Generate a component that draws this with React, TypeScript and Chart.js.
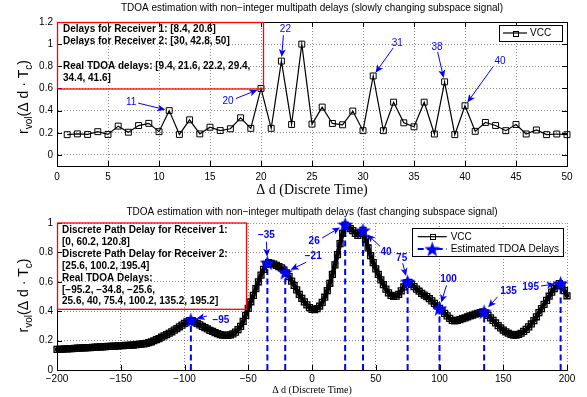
import React, { useEffect, useRef } from "react";
import { Chart, registerables } from "chart.js";

Chart.register(...registerables);

// ---------------- top chart data ----------------
const TOP_TITLE = "TDOA estimation with non\u2212integer multipath delays (slowly changing subspace signal)";
const TOP_X_START = 1;
const TOP_VCC = [
  0.183, 0.19, 0.185, 0.21, 0.185, 0.26, 0.205, 0.265, 0.285, 0.21,
  0.4, 0.185, 0.317, 0.19, 0.25, 0.22, 0.236, 0.335, 0.24, 0.6,
  0.24, 0.847, 0.275, 1.0, 0.278, 0.432, 0.284, 0.272, 0.396, 0.219,
  0.713, 0.219, 0.476, 0.29, 0.254, 0.476, 0.189, 0.66, 0.183, 0.444,
  0.213, 0.293, 0.266, 0.219, 0.275, 0.189, 0.225, 0.183, 0.189, 0.183,
];
const TOP_X_TICKS = [0, 5, 10, 15, 20, 25, 30, 35, 40, 45, 50];
const TOP_Y_TICKS = [0, 0.2, 0.4, 0.6, 0.8, 1, 1.2];
const TOP_ARROW_X = [11, 20, 22, 31, 38, 40];
const TOP_ARROW_LABELS = ["11", "20", "22", "31", "38", "40"];
const TOP_BOX_LINES = [
  "Delays for Receiver 1: [8.4, 20.6]",
  "Delays for Receiver 2: [30, 42.8, 50]",
  "",
  "Real TDOA delays: [9.4, 21.6, 22.2, 29.4,",
  "34.4, 41.6]",
];

// ---------------- bottom chart data ----------------
const BOT_TITLE = "TDOA estimation with non\u2212integer multipath delays (fast changing subspace signal)";
const BOT_X_START = -200;
const BOT_X_STEP = 2;
const BOT_VCC = [
  0.141, 0.141, 0.142, 0.143, 0.144, 0.145, 0.146, 0.147, 0.148, 0.149,
  0.150, 0.151, 0.152, 0.153, 0.154, 0.155, 0.156, 0.157, 0.158, 0.159,
  0.160, 0.161, 0.162, 0.163, 0.164, 0.165, 0.166, 0.167, 0.168, 0.169,
  0.170, 0.172, 0.174, 0.176, 0.178, 0.181, 0.186, 0.192, 0.199, 0.206,
  0.214, 0.223, 0.232, 0.241, 0.250, 0.260, 0.271, 0.282, 0.294, 0.305,
  0.317, 0.327, 0.336, 0.336, 0.326, 0.317, 0.307, 0.297, 0.288, 0.279,
  0.270, 0.262, 0.254, 0.247, 0.241, 0.237, 0.235, 0.236, 0.239, 0.246,
  0.258, 0.274, 0.297, 0.330, 0.372, 0.420, 0.464, 0.508, 0.553, 0.600,
  0.645, 0.685, 0.718, 0.730, 0.725, 0.720, 0.712, 0.703, 0.695, 0.680,
  0.660, 0.635, 0.605, 0.575, 0.545, 0.515, 0.488, 0.463, 0.443, 0.425,
  0.412, 0.410, 0.418, 0.435, 0.460, 0.495, 0.540, 0.590, 0.650, 0.715,
  0.785, 0.860, 0.930, 0.985, 0.975, 0.962, 0.948, 0.930, 0.915, 0.930,
  0.950, 0.890, 0.830, 0.778, 0.730, 0.688, 0.650, 0.613, 0.580, 0.550,
  0.525, 0.507, 0.500, 0.503, 0.515, 0.538, 0.565, 0.592, 0.596, 0.582,
  0.567, 0.550, 0.536, 0.522, 0.510, 0.499, 0.485, 0.470, 0.453, 0.436,
  0.419, 0.402, 0.385, 0.368, 0.351, 0.337, 0.334, 0.338, 0.343, 0.349,
  0.355, 0.362, 0.368, 0.374, 0.380, 0.386, 0.391, 0.396, 0.388, 0.372,
  0.355, 0.338, 0.320, 0.302, 0.286, 0.272, 0.260, 0.250, 0.242, 0.238,
  0.238, 0.242, 0.250, 0.262, 0.276, 0.293, 0.313, 0.336, 0.362, 0.390,
  0.418, 0.446, 0.474, 0.502, 0.530, 0.553, 0.572, 0.588, 0.575, 0.540,
  0.505,
];
const BOT_EST_X = [-95, -35, -21, 26, 40, 75, 100, 135, 195];
const BOT_EST_Y = [0.34, 0.73, 0.665, 0.99, 0.95, 0.6, 0.42, 0.396, 0.59];
const BOT_EST_LABELS = ["\u221295", "\u221235", "\u221221", "26", "40", "75", "100", "135", "195"];
const BOT_X_TICKS = [-200, -150, -100, -50, 0, 50, 100, 150, 200];
const BOT_Y_TICKS = [0, 0.2, 0.4, 0.6, 0.8, 1];
const BOT_BOX_LINES = [
  "Discrete Path Delay for Receiver 1:",
  "[0, 60.2, 120.8]",
  "Discrete Path Delay for Receiver 2:",
  "[25.6, 100.2, 195.4]",
  "Real TDOA Delays:",
  "[\u221295.2, \u221234.8, \u221225.6,",
  "25.6, 40, 75.4, 100.2, 135.2, 195.2]",
];

const X_TITLE = "\u0394 d (Discrete Time)";
const LEGEND_VCC = "VCC";
const LEGEND_EST = "Estimated TDOA Delays";

// ---------------- styles ----------------
const SANS = '"Liberation Sans", Arial, Helvetica, sans-serif';
const SERIF = '"Liberation Serif", "Times New Roman", serif';
const BLUE = "#0000ff";
const GRID_COLOR = "rgba(0,0,0,0.45)";
const TICK_LEN = 5;

const TOP_ARROW_STYLE = [
  { tail: [-31, -7.5], text: [-38, -8] },
  { tail: [-25, 10], text: [-33, 12.5] },
  { tail: [2, -26], text: [4, -32] },
  { tail: [20, -28], text: [24, -33] },
  { tail: [-7, -30], text: [-7.6, -35] },
  { tail: [28, -39], text: [35, -44] },
];
const BOT_ARROW_STYLE = [
  { tail: [16, -4], text: [30, 0] },
  { tail: [-1, -21], text: [-1, -27] },
  { tail: [21, -10], text: [28, -15.5] },
  { tail: [-23, 13.5], text: [-31, 17] },
  { tail: [17, 16], text: [23, 22] },
  { tail: [-5, -18.5], text: [-6, -23.6] },
  { tail: [7, -23], text: [9, -29] },
  { tail: [13.5, -15], text: [24.4, -21] },
  { tail: [-19.6, 2.7], text: [-30, 4.4] },
];

Chart.defaults.font.family = SANS;

function makeStar(size: number, color: string) {
  const c = document.createElement("canvas");
  c.width = size;
  c.height = size;
  const g = c.getContext("2d")!;
  const cx = size / 2;
  const cy = size / 2 + 0.7;
  const R = size / 2 - 0.2;
  const r = R * 0.4;
  g.beginPath();
  for (let i = 0; i < 10; i++) {
    const ang = -Math.PI / 2 + (i * Math.PI) / 5;
    const rad = i % 2 === 0 ? R : r;
    g.lineTo(cx + rad * Math.cos(ang), cy + rad * Math.sin(ang));
  }
  g.closePath();
  g.fillStyle = color;
  g.fill();
  return c;
}

function fmtY(v: number) {
  return String(Math.round(v * 10) / 10);
}
function fmtX(v: number) {
  return v < 0 ? "\u2212" + Math.abs(v) : String(v);
}

function drawArrow(ctx: CanvasRenderingContext2D, x1: number, y1: number, x2: number, y2: number) {
  const ang = Math.atan2(y2 - y1, x2 - x1);
  const head = 8;
  const hw = 3.5;
  const bx = x2 - head * Math.cos(ang);
  const by = y2 - head * Math.sin(ang);
  const ix = x2 - (head - 2) * Math.cos(ang);
  const iy = y2 - (head - 2) * Math.sin(ang);
  ctx.strokeStyle = BLUE;
  ctx.fillStyle = BLUE;
  ctx.lineWidth = 1;
  ctx.beginPath();
  ctx.moveTo(x1, y1);
  ctx.lineTo(ix, iy);
  ctx.stroke();
  ctx.beginPath();
  ctx.moveTo(x2, y2);
  ctx.lineTo(bx + hw * Math.sin(ang), by - hw * Math.cos(ang));
  ctx.lineTo(ix, iy);
  ctx.lineTo(bx - hw * Math.sin(ang), by + hw * Math.cos(ang));
  ctx.closePath();
  ctx.fill();
}

function drawAnnotations(
  chart: any,
  xs: number[],
  ys: number[],
  labels: string[],
  styles: { tail: number[]; text: number[] }[],
  gap: number,
  bold: boolean
) {
  const ctx: CanvasRenderingContext2D = chart.ctx;
  const sx = chart.scales.x;
  const sy = chart.scales.y;
  for (let i = 0; i < xs.length; i++) {
    const px = sx.getPixelForValue(xs[i]);
    const py = sy.getPixelForValue(ys[i]);
    const st = styles[i];
    const tx = px + st.tail[0];
    const ty = py + st.tail[1];
    const d = Math.hypot(tx - px, ty - py);
    const hx = px + ((tx - px) / d) * gap;
    const hy = py + ((ty - py) / d) * gap;
    drawArrow(ctx, tx, ty, hx, hy);
    ctx.fillStyle = BLUE;
    ctx.font = (bold ? "bold " : "") + "10px " + SANS;
    ctx.textAlign = "center";
    ctx.textBaseline = "middle";
    ctx.fillText(labels[i], px + st.text[0], py + st.text[1]);
  }
}

function drawYLabel(ctx: CanvasRenderingContext2D, bx: number, cy: number) {
  const parts = [
    { t: "r", s: 14, dy: 0 },
    { t: "vol", s: 10, dy: 4 },
    { t: "(\u0394 d \u00b7 T", s: 14, dy: 0 },
    { t: "c", s: 10, dy: 4 },
    { t: ")", s: 14, dy: 0 },
  ];
  ctx.save();
  ctx.translate(bx, cy);
  ctx.rotate(-Math.PI / 2);
  ctx.fillStyle = "#000";
  ctx.textAlign = "left";
  ctx.textBaseline = "alphabetic";
  let total = 0;
  const widths = parts.map((p) => {
    ctx.font = p.s + "px " + SANS;
    const w = ctx.measureText(p.t).width;
    total += w;
    return w;
  });
  let x = -total / 2;
  parts.forEach((p, i) => {
    ctx.font = p.s + "px " + SANS;
    ctx.fillText(p.t, x, p.dy);
    x += widths[i];
  });
  ctx.restore();
}

function drawInTicks(chart: any, mirror: boolean) {
  const ctx: CanvasRenderingContext2D = chart.ctx;
  const a = chart.chartArea;
  const sx = chart.scales.x;
  const sy = chart.scales.y;
  ctx.strokeStyle = "#000";
  ctx.lineWidth = 1;
  ctx.beginPath();
  for (const t of sx.ticks) {
    const px = Math.round(sx.getPixelForValue(t.value)) + 0.5;
    ctx.moveTo(px, a.bottom);
    ctx.lineTo(px, a.bottom - TICK_LEN);
    if (mirror) {
      ctx.moveTo(px, a.top);
      ctx.lineTo(px, a.top + TICK_LEN);
    }
  }
  for (const t of sy.ticks) {
    const py = Math.round(sy.getPixelForValue(t.value)) + 0.5;
    ctx.moveTo(a.left, py);
    ctx.lineTo(a.left + TICK_LEN, py);
    if (mirror) {
      ctx.moveTo(a.right, py);
      ctx.lineTo(a.right - TICK_LEN, py);
    }
  }
  ctx.stroke();
}

function drawTextBox(
  ctx: CanvasRenderingContext2D,
  left: number,
  top: number,
  w: number,
  h: number,
  lines: string[],
  padX: number,
  firstY: number,
  lineH: number
) {
  ctx.strokeStyle = "#ff0000";
  ctx.lineWidth = 1.3;
  ctx.strokeRect(left + 0.5, top + 0.5, w, h);
  ctx.fillStyle = "#000";
  ctx.font = "bold 10px " + SANS;
  ctx.textAlign = "left";
  ctx.textBaseline = "middle";
  lines.forEach((l, i) => ctx.fillText(l, left + padX, top + firstY + i * lineH));
}

function drawVccSample(ctx: CanvasRenderingContext2D, x1: number, x2: number, y: number, side: number) {
  ctx.strokeStyle = "#000";
  ctx.lineWidth = 1.2;
  ctx.beginPath();
  ctx.moveTo(x1, y);
  ctx.lineTo(x2, y);
  ctx.stroke();
  const cx = (x1 + x2) / 2;
  ctx.lineWidth = 1;
  ctx.strokeRect(Math.round(cx - side / 2) + 0.5, Math.round(y - side / 2) + 0.5, side, side);
}

function scaleCommon(ticks: number[], fmt: (v: number) => string, pad: number) {
  return {
    type: "linear" as const,
    afterBuildTicks: (s: any) => {
      s.ticks = ticks.map((v) => ({ value: v }));
    },
    ticks: {
      color: "#000",
      font: { size: 10, family: SANS },
      padding: pad,
      autoSkip: false,
      maxRotation: 0,
      callback: (v: any) => fmt(Number(v)),
    },
    grid: { color: GRID_COLOR, lineWidth: 1, drawTicks: false },
    border: { display: true, color: "#000", width: 1, dash: [1, 2] },
  };
}

export default function App() {
  const topRef = useRef<HTMLCanvasElement>(null);
  const botRef = useRef<HTMLCanvasElement>(null);

  useEffect(() => {
    document.body.style.margin = "0";
    const star = makeStar(17, BLUE);

    // ---------- top chart ----------
    const topData = TOP_VCC.map((v, i) => ({ x: TOP_X_START + i, y: v }));
    const topArrowY = TOP_ARROW_X.map((x) => TOP_VCC[x - TOP_X_START]);
    const topDecor = {
      id: "topDecor",
      afterDraw(chart: any) {
        const ctx: CanvasRenderingContext2D = chart.ctx;
        const a = chart.chartArea;
        ctx.save();
        ctx.strokeStyle = "#000";
        ctx.lineWidth = 1;
        ctx.strokeRect(Math.round(a.left) + 0.5, Math.round(a.top) + 0.5, Math.round(a.right - a.left), Math.round(a.bottom - a.top));
        drawInTicks(chart, true);
        ctx.fillStyle = "#000";
        ctx.textAlign = "center";
        ctx.textBaseline = "middle";
        ctx.font = "10px " + SANS;
        ctx.fillText(TOP_TITLE, (a.left + a.right) / 2, 8.5);
        ctx.font = "14px " + SERIF;
        ctx.fillText(X_TITLE, (a.left + a.right) / 2, 190);
        drawYLabel(ctx, 28, (a.top + a.bottom) / 2 + 3);
        drawTextBox(ctx, a.left, a.top, 206, 66.5, TOP_BOX_LINES, 6, 7.3, 12.3);
        // legend
        const lw = 63, lh = 16;
        const lx = a.right - 5 - lw, ly = a.top + 3;
        ctx.fillStyle = "#fff";
        ctx.fillRect(lx, ly, lw, lh);
        ctx.strokeStyle = "#000";
        ctx.lineWidth = 1;
        ctx.strokeRect(Math.round(lx) + 0.5, Math.round(ly) + 0.5, lw, lh);
        drawVccSample(ctx, lx + 4, lx + 28, ly + lh / 2, 5);
        ctx.fillStyle = "#000";
        ctx.font = "10px " + SANS;
        ctx.textAlign = "left";
        ctx.fillText(LEGEND_VCC, lx + 31, ly + lh / 2 + 0.5);
        drawAnnotations(chart, TOP_ARROW_X, topArrowY, TOP_ARROW_LABELS, TOP_ARROW_STYLE, 4, false);
        ctx.restore();
      },
    };

    const topChart = new Chart(topRef.current!, {
      type: "line",
      data: {
        datasets: [
          {
            label: LEGEND_VCC,
            data: topData,
            borderColor: "#000",
            borderWidth: 1.2,
            pointStyle: "rect",
            pointRadius: 4.2,
            pointBorderWidth: 1,
            pointBorderColor: "#000",
            pointBackgroundColor: "rgba(0,0,0,0)",
            fill: false,
            tension: 0,
            clip: false,
          } as any,
        ],
      },
      options: {
        animation: false,
        responsive: false,
        events: [],
        layout: { padding: { left: 0, right: 20, top: 22, bottom: 0 } },
        plugins: { legend: { display: false }, tooltip: { enabled: false }, title: { display: false } },
        scales: {
          x: { ...scaleCommon(TOP_X_TICKS, fmtX, 5), min: 0, max: 50, afterFit: (s: any) => { s.height = 34; } } as any,
          y: { ...scaleCommon(TOP_Y_TICKS, fmtY, 4), min: -0.1, max: 1.2, afterFit: (s: any) => { s.width = 57; } } as any,
        },
      },
      plugins: [topDecor],
    });

    // ---------- bottom chart ----------
    const botData = BOT_VCC.map((v, i) => ({ x: BOT_X_START + i * BOT_X_STEP, y: v }));
    const starData = BOT_EST_X.map((x, i) => ({ x, y: BOT_EST_Y[i] }));
    const stemData: { x: number; y: number | null }[] = [];
    BOT_EST_X.forEach((x, i) => {
      stemData.push({ x, y: 0 }, { x, y: BOT_EST_Y[i] }, { x, y: null });
    });

    const botDecor = {
      id: "botDecor",
      afterDraw(chart: any) {
        const ctx: CanvasRenderingContext2D = chart.ctx;
        const a = chart.chartArea;
        ctx.save();
        drawInTicks(chart, false);
        ctx.fillStyle = "#000";
        ctx.textAlign = "center";
        ctx.textBaseline = "middle";
        ctx.font = "10px " + SANS;
        ctx.fillText(BOT_TITLE, (a.left + a.right) / 2, 12.5);
        ctx.font = "10px " + SERIF;
        ctx.fillText(X_TITLE, (a.left + a.right) / 2, 190);
        drawYLabel(ctx, 28, (a.top + a.bottom) / 2 - 1);
        drawTextBox(ctx, a.left, a.top - 0.5, 189, 86.3, BOT_BOX_LINES, 5, 7.5, 11.95);
        // legend
        const lw = 151, lh = 28.4;
        const lx = a.right - 4.3 - lw, ly = a.top + 5.3;
        ctx.fillStyle = "#fff";
        ctx.fillRect(lx, ly, lw, lh);
        ctx.strokeStyle = "#000";
        ctx.lineWidth = 1;
        ctx.strokeRect(Math.round(lx) + 0.5, Math.round(ly) + 0.5, Math.round(lw), Math.round(lh));
        const r1 = ly + 8.4, r2 = ly + 20.7;
        drawVccSample(ctx, lx + 6, lx + 35, r1, 5);
        ctx.strokeStyle = BLUE;
        ctx.lineWidth = 2;
        ctx.setLineDash([6, 3.5]);
        ctx.beginPath();
        ctx.moveTo(lx + 6, r2);
        ctx.lineTo(lx + 35, r2);
        ctx.stroke();
        ctx.setLineDash([]);
        ctx.drawImage(star, lx + 20.5 - star.width / 2, r2 - star.height / 2);
        ctx.fillStyle = "#000";
        ctx.font = "10px " + SANS;
        ctx.textAlign = "left";
        ctx.textBaseline = "middle";
        ctx.fillText(LEGEND_VCC, lx + 39, r1 + 0.5);
        ctx.fillText(LEGEND_EST, lx + 39, r2 + 0.5);
        drawAnnotations(chart, BOT_EST_X, BOT_EST_Y, BOT_EST_LABELS, BOT_ARROW_STYLE, 6, true);
        ctx.restore();
      },
    };

    const botChart = new Chart(botRef.current!, {
      type: "line",
      data: {
        datasets: [
          {
            label: LEGEND_EST,
            data: starData,
            showLine: false,
            pointStyle: star as any,
            pointRadius: 8,
            clip: false,
            order: 1,
          } as any,
          {
            label: LEGEND_VCC,
            data: botData,
            borderColor: "#000",
            borderWidth: 4.5,
            borderJoinStyle: "round",
            borderCapStyle: "round",
            pointStyle: "rect",
            pointRadius: 4.2,
            pointBorderWidth: 1.3,
            pointBorderColor: "#000",
            pointBackgroundColor: "rgba(0,0,0,0)",
            fill: false,
            tension: 0,
            clip: false,
            order: 2,
          } as any,
          {
            label: "stems",
            data: stemData,
            borderColor: BLUE,
            borderWidth: 2,
            borderDash: [6, 3.5],
            pointRadius: 0,
            spanGaps: false,
            fill: false,
            tension: 0,
            order: 3,
          } as any,
        ],
      },
      options: {
        animation: false,
        responsive: false,
        events: [],
        layout: { padding: { left: 0, right: 20, top: 23, bottom: 0 } },
        plugins: { legend: { display: false }, tooltip: { enabled: false }, title: { display: false } },
        scales: {
          x: { ...scaleCommon(BOT_X_TICKS, fmtX, 3.5), min: -200, max: 200, afterFit: (s: any) => { s.height = 27; } } as any,
          y: { ...scaleCommon(BOT_Y_TICKS, fmtY, 4), min: 0, max: 1, afterFit: (s: any) => { s.width = 57; } } as any,
        },
      },
      plugins: [botDecor],
    });

    return () => {
      topChart.destroy();
      botChart.destroy();
    };
  }, []);

  return (
    <div style={{ position: "fixed", left: 0, top: 0, width: 587, height: 397, background: "#fff" }}>
      <canvas ref={topRef} width={587} height={200} style={{ position: "absolute", left: 0, top: 0, width: 587, height: 200 }} />
      <canvas ref={botRef} width={587} height={197} style={{ position: "absolute", left: 0, top: 200, width: 587, height: 197 }} />
    </div>
  );
}
